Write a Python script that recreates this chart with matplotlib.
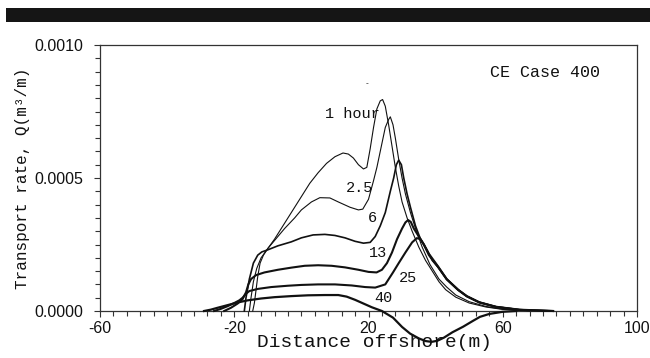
import matplotlib
matplotlib.use("Agg")
import matplotlib.pyplot as plt
from matplotlib.patches import Rectangle
from matplotlib.ticker import MultipleLocator, FixedLocator, FixedFormatter

# ---------------- data ----------------
x_1h = [-14.5, -14.0, -13.5, -13.0, -12.3, -11.3, -10.0, -8.0, -5.0, -2.0, 0.0, 2.5, 5.0, 7.5,
        10.0, 12.4, 14.0, 15.5, 17.0, 18.5, 19.5, 20.5, 21.5, 22.5, 23.5, 24.2, 25.0, 26.0,
        27.0, 28.0, 29.0, 30.0, 31.5, 33.0, 35.0, 37.0, 39.0, 41.0, 43.0, 46.0, 50.0, 55.0,
        60.0, 68.0]
q_1h = [0.0, 0.00003, 0.00008, 0.00013, 0.00018, 0.00021, 0.000235, 0.00027, 0.00033, 0.00039,
        0.00043, 0.00048, 0.00052, 0.000555, 0.00058, 0.000594, 0.00059, 0.000575, 0.00055,
        0.000534, 0.00054, 0.00061, 0.00069, 0.00076, 0.00079, 0.000795, 0.00077, 0.0007,
        0.00062, 0.00054, 0.00047, 0.00041, 0.00035, 0.0003, 0.00024, 0.00019, 0.00015,
        0.00011, 0.00008, 0.000052, 0.00003, 0.000015, 0.000006, 0.000001]

x_2h5 = [-15.5, -15.0, -14.3, -13.3, -12.0, -10.0, -8.0, -5.0, -2.0, 0.0, 3.0, 5.5, 8.5, 11.0,
         14.5, 17.0, 18.3, 20.0, 21.5, 22.5, 24.0, 25.0, 26.0, 26.5, 27.3, 28.0, 29.0, 30.0,
         31.0, 32.5, 34.0, 36.0, 38.3, 41.0, 43.3, 46.0, 50.0, 55.0, 60.0, 68.0]
q_2h5 = [0.0, 0.00005, 0.00011, 0.00016, 0.0002, 0.000235, 0.000265, 0.00031, 0.00035, 0.00038,
         0.00041, 0.000426, 0.000425, 0.00041, 0.00039, 0.00038, 0.000383, 0.00042, 0.00049,
         0.00054, 0.00063, 0.00069, 0.00072, 0.00073, 0.0007, 0.00065, 0.00057, 0.0005,
         0.00044, 0.00037, 0.00031, 0.00024, 0.000175, 0.00012, 0.00009, 0.00006, 0.000035,
         0.000017, 0.000007, 0.000001]

x_6h = [-17.0, -16.5, -15.5, -14.3, -13.0, -11.8, -10.0, -7.0, -3.0, 0.0, 3.5, 7.0, 10.0, 13.0,
        16.0, 18.5, 20.5, 22.0, 23.5, 25.0, 26.5, 27.5, 28.3, 29.0, 29.8, 30.5, 31.5, 32.5,
        34.0, 35.5, 37.4, 39.0, 40.7, 43.3, 46.7, 49.3, 53.0, 58.0, 65.0, 75.0]
q_6h = [0.0, 0.00005, 0.00012, 0.00018, 0.00021, 0.000222, 0.00023, 0.000245, 0.00026, 0.000275,
        0.000286, 0.000288, 0.000284, 0.000275, 0.000262, 0.000255, 0.000258, 0.00028, 0.00032,
        0.00037, 0.00045, 0.0005, 0.00055, 0.000567, 0.00055, 0.0005, 0.00044, 0.00039,
        0.00032, 0.00027, 0.00023, 0.00019, 0.000165, 0.00012, 0.00008, 0.000055, 0.000033,
        0.000016, 0.000005, 0.0]

x_13h = [-23.0, -21.0, -19.0, -17.5, -16.5, -15.8, -15.0, -13.5, -11.0, -7.0, -3.0, 1.0, 5.0,
         9.0, 13.0, 17.0, 20.0, 22.4, 24.0, 25.5, 27.0, 28.5, 30.0, 31.0, 31.8, 32.6, 33.5,
         35.0, 36.5, 38.0, 40.7, 43.3, 46.7, 49.3, 53.0, 58.0, 65.0, 75.0]
q_13h = [0.0, 0.000012, 0.000028, 0.000045, 0.00007, 0.0001, 0.00012, 0.000135, 0.000145,
         0.000155, 0.000163, 0.00017, 0.000172, 0.00017, 0.000164, 0.000155, 0.000147,
         0.000145, 0.000155, 0.00018, 0.00022, 0.00027, 0.00031, 0.000333, 0.000342, 0.000335,
         0.00031, 0.00028, 0.00025, 0.00021, 0.000166, 0.000119, 0.000079, 0.000055, 0.000032,
         0.000015, 0.000004, 0.0]

x_25h = [-26.0, -24.0, -22.0, -20.0, -18.5, -17.5, -16.5, -15.5, -13.0, -9.0, -4.0, 0.0, 5.0,
         10.0, 15.0, 19.0, 22.0, 25.0, 27.3, 29.0, 31.0, 33.0, 34.4, 35.5, 36.5, 38.0, 40.7,
         43.3, 46.7, 49.3, 53.0, 58.0, 65.0, 75.0]
q_25h = [0.0, 0.000008, 0.000018, 0.00003, 0.00004, 0.00005, 0.000065, 0.000075, 0.000083,
         0.00009, 0.000095, 0.000098, 0.0001, 0.0001, 0.000096, 0.00009, 0.000088, 0.0001,
         0.000145, 0.00018, 0.00022, 0.000258, 0.000274, 0.00027, 0.00025, 0.000215, 0.000168,
         0.00012, 0.00008, 0.000056, 0.000033, 0.000016, 0.000005, 0.0]

x_40h = [-29.0, -27.0, -25.0, -22.0, -19.0, -16.0, -12.0, -8.0, -3.0, 2.0, 7.0, 11.0, 13.5,
         16.0, 18.5, 21.0, 24.0, 27.3, 30.0, 32.4, 35.0, 37.0, 38.8, 40.5, 42.5, 45.0, 48.2,
         51.0, 53.2, 56.0, 60.0, 64.0]
q_40h = [0.0, 0.000005, 0.000012, 0.000022, 0.000032, 0.00004, 0.000047, 0.000052, 0.000056,
         0.000059, 0.00006, 0.00006, 0.000054, 0.000042, 0.000028, 0.000014, 0.0, -0.000025,
         -0.00006, -0.000085, -0.000103, -0.000113, -0.000116, -0.000112, -0.0001, -0.00008,
         -0.000059, -0.000038, -0.000022, -0.000011, -0.000003, 0.0]

curve_labels = ["1 hour", "2.5", "6", "13", "25", "40"]
label_x = [15.1, 17.2, 21.2, 22.9, 31.9, 24.4]
label_q = [0.000741, 0.000462, 0.000348, 0.000219, 0.000123, 0.000048]

x_ticks = [-60, -20, 20, 60, 100]
x_ticklabels = ["-60", "-20", "20", "60", "100"]
y_ticks = [0.0, 0.0005, 0.0010]
y_ticklabels = ["0.0000", "0.0005", "0.0010"]

# ---------------- figure ----------------
W, H = 650, 358
fig = plt.figure(figsize=(W / 100, H / 100), dpi=100)
fig.patch.set_facecolor("white")

# black band at the top
fig.patches.append(Rectangle((6 / W, 1 - 22 / H), 644 / W, 14 / H,
                             transform=fig.transFigure, facecolor="#151515",
                             edgecolor="none"))

ax = fig.add_axes([100 / W, 1 - 311 / H, 537 / W, 266 / H])
ax.set_xlim(-60, 100)
ax.set_ylim(0, 0.001)

mono = "Liberation Mono"
sans = "Liberation Sans"
ink = "#111111"

series = [(x_1h, q_1h, 0.8), (x_2h5, q_2h5, 0.8), (x_6h, q_6h, 1.2),
          (x_13h, q_13h, 1.5), (x_25h, q_25h, 1.5), (x_40h, q_40h, 1.6)]
for xs, qs, lw in series:
    ax.plot(xs, qs, color=ink, lw=lw, solid_joinstyle="round", clip_on=False, zorder=3)

for t, lx, lq in zip(curve_labels, label_x, label_q):
    ax.text(lx, lq, t, family=mono, fontsize=11, ha="center", va="center", color=ink,
            zorder=4)

ax.text(89.0, 0.000898, "CE Case 400", family=mono, fontsize=12, ha="right", va="center",
        color=ink)
ax.text(19.5, 0.000853, "-", family=sans, fontsize=6, ha="center", va="center", color=ink)

# axes styling
for s in ax.spines.values():
    s.set_color("#333333")
    s.set_linewidth(0.9)

ax.xaxis.set_major_locator(FixedLocator(x_ticks))
ax.xaxis.set_major_formatter(FixedFormatter(x_ticklabels))
ax.xaxis.set_minor_locator(MultipleLocator(4))
ax.yaxis.set_major_locator(FixedLocator(y_ticks))
ax.yaxis.set_major_formatter(FixedFormatter(y_ticklabels))
ax.yaxis.set_minor_locator(MultipleLocator(0.00005))
ax.tick_params(axis="both", which="both", direction="out", color="#333333", width=0.8,
               top=False, right=False)
ax.tick_params(axis="both", which="major", length=4)
ax.tick_params(axis="both", which="minor", length=3.5)
ax.tick_params(axis="x", which="major", pad=3)
ax.tick_params(axis="y", which="major", pad=8)
for lab in ax.get_xticklabels() + ax.get_yticklabels():
    lab.set_family(sans)
    lab.set_fontsize(11.5)
    lab.set_color(ink)

ax.set_xlabel("Distance offshore(m)", family=mono, fontsize=14, color=ink, va="center")
ax.xaxis.set_label_coords(0.512, -0.12)
ax.set_ylabel("Transport rate, Q(m³/m)", family=mono, fontsize=11.5, color=ink,
              va="center")
ax.yaxis.set_label_coords(-0.145, 0.5)

fig.savefig("out.png", dpi=100, facecolor="white")
